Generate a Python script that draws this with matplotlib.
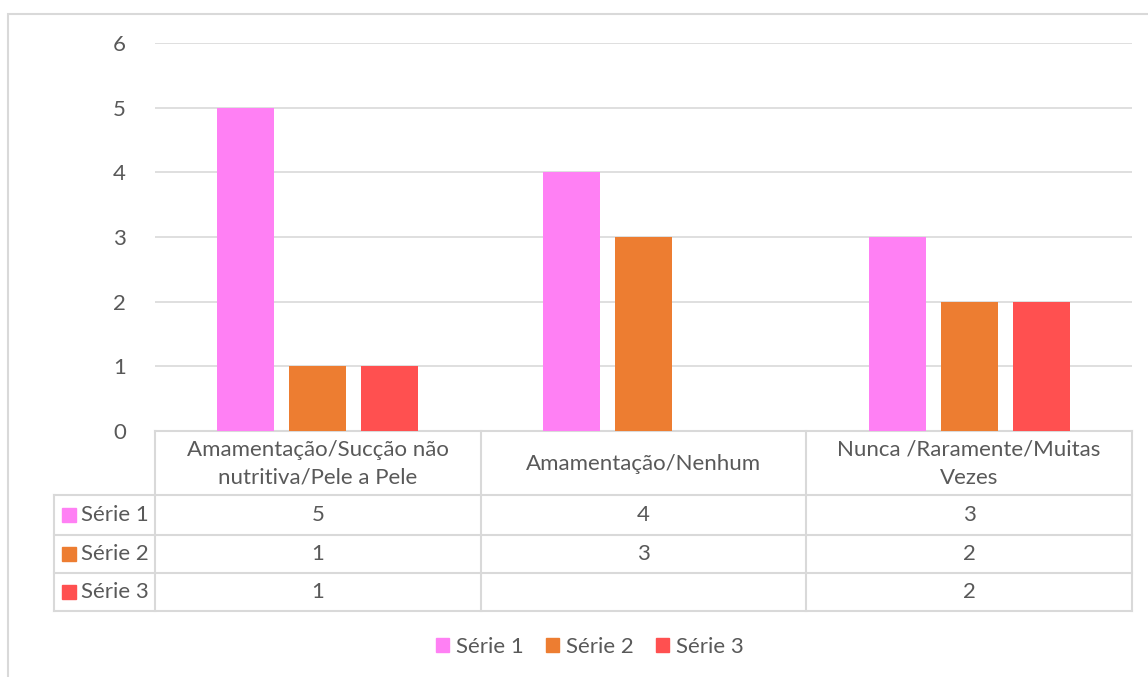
import matplotlib.pyplot as plt
import matplotlib.transforms as mtransforms
from matplotlib.patches import Rectangle, Patch

categories = ["Amamentação/Sucção não\nnutritiva/Pele a Pele", "Amamentação/Nenhum",
              "Nunca /Raramente/Muitas\nVezes"]
series_names = ["Série 1", "Série 2", "Série 3"]
serie1 = [5, 4, 3]
serie2 = [1, 3, 2]
serie3 = [1, None, 2]
colors = ["#FF80F4", "#ED7D31", "#FF5050"]

plt.rcParams['font.family'] = ['Lato', 'DejaVu Sans']
text_col = "#595959"
line_col = "#D9D9D9"
fs = 16
W, H = 1148, 677

fig = plt.figure(figsize=(W / 100, H / 100), dpi=100)

def fy(py):
    return (H - py) / H

ax = fig.add_axes([155 / W, fy(431), (1132 - 155) / W, fy(43) - fy(431)])

all_series = [serie1, serie2, serie3]
bw = 0.175
step = 0.221
for i, vals in enumerate(all_series):
    xs = [j + (i - 1) * step for j, v in enumerate(vals) if v is not None]
    hs = [v for v in vals if v is not None]
    ax.bar(xs, hs, width=bw, color=colors[i], zorder=3)

ax.set_xlim(-0.5, 2.5)
ax.set_ylim(0, 6)
ax.set_yticks(range(0, 7))
ax.tick_params(axis='y', length=0, pad=21, labelsize=fs, labelcolor=text_col)
ax.set_xticks([])
for s in ax.spines.values():
    s.set_visible(False)
ax.grid(axis='y', color=line_col, linewidth=1.2, zorder=0)

# chart border
fig.patches.append(Rectangle((8 / W, fy(700)), 1.2, fy(14) - fy(700), transform=fig.transFigure,
                             fill=False, edgecolor=line_col, linewidth=1.5))

# data table
trans = mtransforms.blended_transform_factory(ax.transData, fig.transFigure)
row_y = [431, 495, 535, 573, 611]
col_x = [-0.5, 0.5, 1.5, 2.5]
lkw = dict(color=line_col, linewidth=1.5, clip_on=False, transform=trans)
ax.plot([-0.5, 2.5], [fy(431)] * 2, **lkw)
for cx in col_x:
    ax.plot([cx, cx], [fy(431), fy(611)], **lkw)
label_left = ax.transData.inverted().transform((54, 0))[0]
for ry in row_y[1:]:
    ax.plot([label_left, 2.5], [fy(ry)] * 2, **lkw)
ax.plot([label_left, label_left], [fy(495), fy(611)], **lkw)

for j, cat in enumerate(categories):
    ax.text(j, fy(464), cat, transform=trans, ha='center', va='center',
            fontsize=fs, color=text_col, linespacing=1.5)
for i, vals in enumerate(all_series):
    yc = fy((row_y[i + 1] + row_y[i + 2]) / 2)
    for j, v in enumerate(vals):
        if v is not None:
            ax.text(j, yc, str(v), transform=trans, ha='center', va='center',
                    fontsize=fs, color=text_col)
    fig.patches.append(Rectangle((62 / W, yc - 7 / H), 14 / W, 14 / H, transform=fig.transFigure,
                                 color=colors[i]))
    fig.text(81 / W, yc, series_names[i], ha='left', va='center', fontsize=fs, color=text_col)

handles = [Patch(color=c, label=n) for c, n in zip(colors, series_names)]
fig.legend(handles=handles, loc='center', bbox_to_anchor=(590 / W, fy(647)), ncol=3,
           frameon=False, fontsize=fs, labelcolor=text_col, handlelength=0.6, handleheight=0.6,
           handletextpad=0.3, columnspacing=1.0)

fig.savefig("out.png", dpi=100)
